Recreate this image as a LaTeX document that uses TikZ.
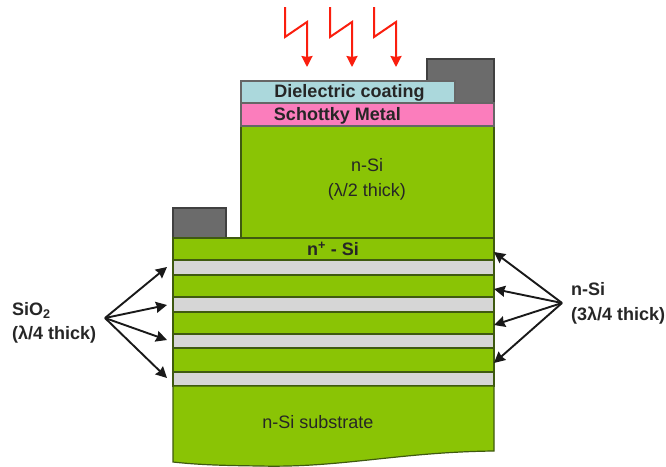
\documentclass[tikz,border=0pt]{standalone}
\usepackage{fontspec}
\setmainfont{Liberation Sans}
\usepackage{tikz}
\usetikzlibrary{arrows.meta}
\definecolor{siGreen}{HTML}{8AC405}
\definecolor{oxGrey}{HTML}{D6D6D6}
\definecolor{padGrey}{HTML}{6B6B6B}
\definecolor{coatBlue}{HTML}{ABD8DC}
\definecolor{metalPink}{HTML}{FB7DBC}
\definecolor{edgeGreen}{HTML}{3F5A10}
\definecolor{boltRed}{HTML}{FA1E0E}
\begin{document}
\begin{tikzpicture}[x=1pt,y=-1pt,>={Stealth[length=11pt,width=11pt,inset=1pt]},
    layer/.style={draw=edgeGreen,line width=1.2pt},
    si layer/.style={layer,fill=siGreen},
    ox layer/.style={layer,fill=oxGrey},
    pad/.style={draw=black!75,line width=1.2pt,fill=padGrey},
    label/.style={inner sep=0pt,text=black!85,font=\fontsize{18}{24}\selectfont,align=center},
    heavy label/.style={label,font=\fontsize{18}{24}\selectfont\bfseries},
    side label/.style={label,font=\fontsize{18}{24.5}\selectfont\bfseries,align=left,anchor=west},
    pointer/.style={->,line width=1.9pt,black!90},
    bolt/.style={->,draw=boltRed,line width=2pt}]
  \useasboundingbox (0,0) rectangle (666,466);

  % contacts
  \draw[pad] (427,59) rectangle (494,103);
  \draw[pad] (173,208) rectangle (226,238);

  % top of the mesa
  \draw[si layer] (241,126) rectangle (494,238);
  \draw[layer,draw=black!60,fill=metalPink] (241,103) rectangle (494,126);
  \draw[layer,draw=black!60,fill=coatBlue] (241,81) rectangle (455,103);

  % mirror stack
  \draw[si layer] (173,238) rectangle (494,260);
  \draw[ox layer] (173,260) rectangle (494,275);
  \draw[si layer] (173,275) rectangle (494,297);
  \draw[ox layer] (173,297) rectangle (494,312);
  \draw[si layer] (173,312) rectangle (494,334);
  \draw[ox layer] (173,334) rectangle (494,348);
  \draw[si layer] (173,348) rectangle (494,372);
  \draw[ox layer] (173,372) rectangle (494,386);
  \draw[si layer] (173,386) -- (494,386) -- (494,451)
    .. controls (400,452) and (340,468) .. (260,466)
    .. controls (225,465.5) and (200,465) .. (173,462) -- cycle;

  \node[heavy label] (coat) at (349.5,92.5) {Dielectric coating};
  \node[heavy label] (metal) at (337.5,115.5) {Schottky Metal};
  \node[label] (nsi) at (367,165) {n-Si};
  \node[label] (half) at (367,192) {(λ/2 thick)};
  \node[heavy label] (nplus) at (333,249) {n\textsuperscript{+} - Si};
  \node[label] (sub) at (318,422) {n-Si substrate};

  \node[side label] (oxide) at (12,323) {SiO\textsubscript{2}\\(λ/4 thick)};
  \node[side label] (spacer) at (571,303.5) {n-Si\\(3λ/4 thick)};

  % arrows out of the two side labels
  \coordinate (oxfan) at (105,318);
  \coordinate (sifan) at (562,303);
  \coordinate (ox1) at (167,267);
  \coordinate (ox2) at (167,305);
  \coordinate (ox3) at (167,340);
  \coordinate (ox4) at (167,378);
  \coordinate (si1) at (494,252);
  \coordinate (si2) at (494,289);
  \coordinate (si3) at (494,325);
  \coordinate (si4) at (494,363);
  \foreach \n in {1,2,3,4} {
    \draw[pointer] (oxfan) -- (ox\n);
    \draw[pointer] (sifan) -- (si\n);
  }

  % incoming light
  \foreach \x/\n in {0/a,45/b,89/c} {
    \coordinate (start\n) at (285+\x,7);
    \coordinate (end\n) at (307+\x,67);
    \draw[bolt] (start\n) -- (285+\x,37) -- (307+\x,22) -- (end\n);
  }
\end{tikzpicture}
\end{document}
